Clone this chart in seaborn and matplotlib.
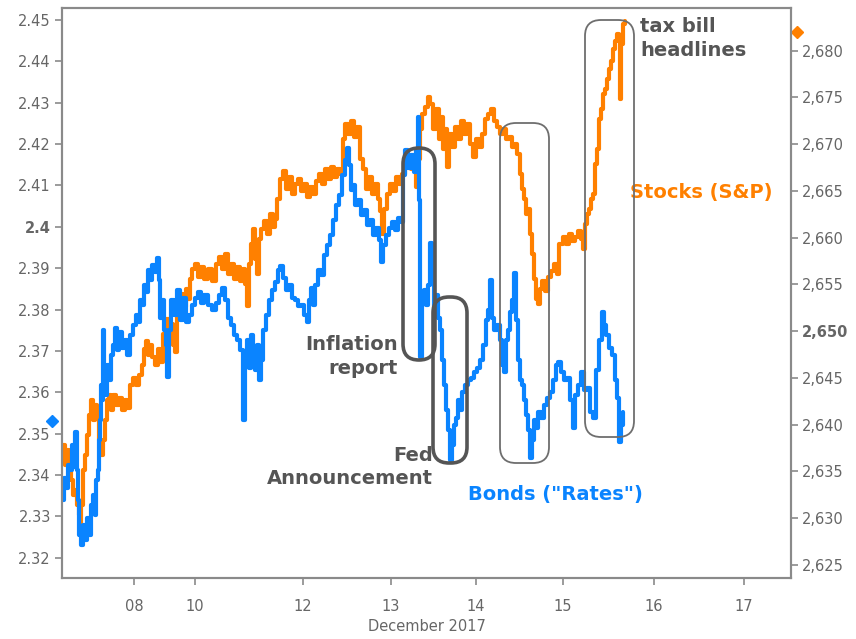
import matplotlib
matplotlib.use("Agg")

import matplotlib.pyplot as plt
from matplotlib.patches import FancyBboxPatch
import matplotlib.transforms as mtransforms
import seaborn as sns
import pandas as pd

# -----------------------------
# Bonds vs stocks, December 2017
# -----------------------------
# x is trading-session position (0 = "08" tick, 1 unit ~ one trading day)

bond_day = [-0.818, -0.806, -0.784, -0.761, -0.738, -0.715, -0.703, -0.680, -0.658, -0.646,
            -0.635, -0.612, -0.589, -0.566, -0.543, -0.520, -0.497, -0.474, -0.451, -0.440,
            -0.417, -0.406, -0.394, -0.383, -0.371, -0.360, -0.348, -0.325, -0.314, -0.291,
            -0.268, -0.245, -0.222, -0.199, -0.176, -0.142, -0.108, -0.085, -0.050, -0.016,
            0.018, 0.041, 0.064, 0.087, 0.110, 0.133, 0.156, 0.179, 0.202, 0.236,
            0.259, 0.282, 0.293, 0.316, 0.339, 0.362, 0.373, 0.396, 0.419, 0.454,
            0.488, 0.522, 0.557, 0.591, 0.625, 0.660, 0.694, 0.729, 0.763, 0.797,
            0.843, 0.889, 0.935, 0.969, 1.003, 1.038, 1.072, 1.107, 1.141, 1.175,
            1.210, 1.244, 1.267, 1.290, 1.313, 1.336, 1.359, 1.381, 1.404, 1.427,
            1.450, 1.473, 1.507, 1.542, 1.576, 1.611, 1.645, 1.668, 1.702, 1.737,
            1.771, 1.805, 1.840, 1.874, 1.908, 1.943, 1.977, 2.000, 2.023, 2.046,
            2.069, 2.103, 2.138, 2.172, 2.206, 2.241, 2.275, 2.309, 2.344, 2.378,
            2.412, 2.435, 2.458, 2.481, 2.504, 2.527, 2.561, 2.596, 2.630, 2.664,
            2.699, 2.733, 2.768, 2.802, 2.825, 2.848, 2.882, 2.916, 2.951, 2.985,
            3.020, 3.054, 3.077, 3.100, 3.134, 3.168, 3.203, 3.226, 3.249, 3.260,
            3.272, 3.294, 3.317, 3.340, 3.363, 3.386, 3.409, 3.432, 3.455, 3.478,
            3.501, 3.524, 3.547, 3.569, 3.592, 3.615, 3.638, 3.661, 3.684, 3.707,
            3.730, 3.753, 3.787, 3.821, 3.856, 3.890, 3.925, 3.959, 3.993, 4.028,
            4.051, 4.073, 4.096, 4.119, 4.154, 4.188, 4.211, 4.234, 4.257, 4.280,
            4.303, 4.325, 4.348, 4.371, 4.394, 4.417, 4.440, 4.463, 4.486, 4.509,
            4.532, 4.555, 4.577, 4.600, 4.623, 4.658, 4.692, 4.726, 4.761, 4.795,
            4.829, 4.852, 4.887, 4.921, 4.955, 4.990, 5.024, 5.047, 5.081, 5.116,
            5.150, 5.185, 5.219, 5.253, 5.288, 5.322, 5.356, 5.379, 5.402, 5.437,
            5.471, 5.505, 5.528, 5.551, 5.574, 5.597]

bond_yield = [2.3340, 2.3393, 2.3369, 2.3425, 2.3413, 2.3473, 2.3420, 2.3504, 2.3413, 2.3340,
              2.3255, 2.3231, 2.3280, 2.3243, 2.3297, 2.3255, 2.3328, 2.3352, 2.3304, 2.3388,
              2.3413, 2.3485, 2.3533, 2.3618, 2.3582, 2.3751, 2.3642, 2.3594, 2.3666, 2.3630,
              2.3690, 2.3715, 2.3756, 2.3703, 2.3746, 2.3707, 2.3727, 2.3690, 2.3739, 2.3763,
              2.3787, 2.3770, 2.3823, 2.3811, 2.3860, 2.3843, 2.3896, 2.3872, 2.3908, 2.3891,
              2.3925, 2.3872, 2.3780, 2.3823, 2.3751, 2.3715, 2.3637, 2.3751, 2.3823, 2.3787,
              2.3848, 2.3775, 2.3828, 2.3770, 2.3787, 2.3811, 2.3828, 2.3843, 2.3816, 2.3835,
              2.3811, 2.3799, 2.3816, 2.3835, 2.3852, 2.3823, 2.3780, 2.3763, 2.3739, 2.3727,
              2.3703, 2.3533, 2.3678, 2.3727, 2.3659, 2.3739, 2.3690, 2.3654, 2.3715, 2.3630,
              2.3678, 2.3751, 2.3787, 2.3823, 2.3848, 2.3867, 2.3896, 2.3906, 2.3877, 2.3848,
              2.3860, 2.3828, 2.3823, 2.3809, 2.3811, 2.3787, 2.3770, 2.3823, 2.3852, 2.3811,
              2.3860, 2.3896, 2.3884, 2.3932, 2.3956, 2.3980, 2.4017, 2.4053, 2.4077, 2.4125,
              2.4162, 2.4191, 2.4150, 2.4089, 2.4101, 2.4053, 2.4065, 2.4029, 2.4041, 2.4005,
              2.4017, 2.3980, 2.3997, 2.3968, 2.3915, 2.3956, 2.3980, 2.3997, 2.4012, 2.3993,
              2.4021, 2.4012, 2.4125, 2.4186, 2.4142, 2.4174, 2.4133, 2.4186, 2.4266, 2.4065,
              2.3686, 2.3823, 2.3848, 2.3811, 2.3860, 2.3961, 2.3872, 2.3799, 2.3835, 2.3780,
              2.3751, 2.3678, 2.3618, 2.3558, 2.3509, 2.3437, 2.3473, 2.3521, 2.3538, 2.3582,
              2.3558, 2.3601, 2.3618, 2.3630, 2.3635, 2.3649, 2.3659, 2.3678, 2.3715, 2.3775,
              2.3799, 2.3872, 2.3780, 2.3751, 2.3763, 2.3727, 2.3666, 2.3649, 2.3727, 2.3751,
              2.3794, 2.3823, 2.3889, 2.3775, 2.3678, 2.3630, 2.3618, 2.3582, 2.3545, 2.3509,
              2.3442, 2.3485, 2.3533, 2.3514, 2.3553, 2.3538, 2.3570, 2.3587, 2.3601, 2.3630,
              2.3666, 2.3674, 2.3649, 2.3630, 2.3635, 2.3582, 2.3514, 2.3594, 2.3618, 2.3649,
              2.3606, 2.3611, 2.3553, 2.3538, 2.3654, 2.3727, 2.3794, 2.3763, 2.3739, 2.3707,
              2.3690, 2.3630, 2.3587, 2.3480, 2.3521, 2.3553]

stock_day = [-0.818, -0.795, -0.772, -0.749, -0.726, -0.703, -0.680, -0.658, -0.635, -0.623,
             -0.612, -0.589, -0.566, -0.543, -0.520, -0.497, -0.474, -0.451, -0.428, -0.406,
             -0.383, -0.360, -0.337, -0.314, -0.291, -0.268, -0.245, -0.211, -0.176, -0.142,
             -0.108, -0.085, -0.050, -0.016, 0.018, 0.053, 0.087, 0.110, 0.133, 0.156,
             0.179, 0.202, 0.236, 0.270, 0.293, 0.328, 0.362, 0.396, 0.419, 0.442,
             0.465, 0.488, 0.522, 0.557, 0.591, 0.614, 0.637, 0.660, 0.694, 0.729,
             0.763, 0.797, 0.843, 0.889, 0.935, 0.969, 1.003, 1.038, 1.072, 1.107,
             1.141, 1.175, 1.210, 1.244, 1.267, 1.290, 1.313, 1.336, 1.359, 1.381,
             1.404, 1.427, 1.450, 1.485, 1.519, 1.553, 1.588, 1.611, 1.633, 1.668,
             1.702, 1.737, 1.771, 1.805, 1.840, 1.874, 1.908, 1.943, 1.977, 2.012,
             2.046, 2.080, 2.115, 2.149, 2.183, 2.218, 2.252, 2.286, 2.321, 2.355,
             2.390, 2.412, 2.446, 2.481, 2.516, 2.550, 2.584, 2.619, 2.653, 2.687,
             2.722, 2.756, 2.790, 2.813, 2.836, 2.859, 2.894, 2.928, 2.962, 2.997,
             3.031, 3.065, 3.100, 3.134, 3.168, 3.203, 3.226, 3.249, 3.272, 3.294,
             3.329, 3.363, 3.386, 3.421, 3.455, 3.489, 3.513, 3.535, 3.558, 3.581,
             3.604, 3.638, 3.673, 3.707, 3.741, 3.776, 3.810, 3.844, 3.879, 3.913,
             3.947, 3.982, 4.016, 4.051, 4.085, 4.119, 4.154, 4.188, 4.222, 4.257,
             4.291, 4.325, 4.360, 4.383, 4.417, 4.440, 4.463, 4.486, 4.509, 4.532,
             4.555, 4.577, 4.600, 4.623, 4.646, 4.669, 4.704, 4.738, 4.772, 4.807,
             4.841, 4.864, 4.910, 4.944, 4.978, 5.013, 5.047, 5.081, 5.116, 5.139,
             5.162, 5.185, 5.207, 5.230, 5.253, 5.276, 5.299, 5.322, 5.345, 5.368,
             5.391, 5.414, 5.437, 5.460, 5.483, 5.505, 5.528, 5.551, 5.563, 5.574,
             5.597, 5.620]

stock_price = [2637.86, 2635.72, 2637.32, 2635.18, 2634.11, 2632.50, 2633.04, 2631.43, 2630.36, 2629.50,
               2631.43, 2635.18, 2636.79, 2638.93, 2641.08, 2642.69, 2640.54, 2642.15, 2640.76, 2638.40,
               2636.79, 2638.40, 2640.54, 2642.69, 2643.22, 2641.61, 2643.22, 2642.15, 2642.90, 2641.61,
               2642.69, 2641.83, 2644.30, 2645.05, 2644.30, 2645.37, 2646.44, 2648.05, 2648.91, 2647.51,
               2648.58, 2647.19, 2646.44, 2648.05, 2646.76, 2649.66, 2651.27, 2649.34, 2650.73, 2648.58,
               2647.73, 2652.87, 2653.95, 2652.55, 2654.48, 2653.41, 2655.55, 2656.63, 2657.16, 2655.77,
               2656.84, 2655.55, 2656.63, 2655.34, 2657.16, 2657.91, 2656.63, 2658.23, 2656.09, 2657.16,
               2655.55, 2656.84, 2655.34, 2656.63, 2655.02, 2652.66, 2657.16, 2659.31, 2660.91, 2657.70,
               2656.09, 2659.84, 2660.91, 2661.77, 2660.38, 2662.52, 2661.13, 2661.99, 2664.13, 2666.28,
               2667.13, 2665.20, 2666.49, 2664.67, 2665.74, 2666.28, 2664.99, 2665.74, 2664.35, 2665.42,
               2664.67, 2666.06, 2666.81, 2665.74, 2667.35, 2666.28, 2667.56, 2666.49, 2667.35, 2666.81,
               2670.56, 2672.17, 2671.10, 2672.49, 2670.78, 2671.85, 2668.42, 2667.35, 2665.20, 2666.49,
               2664.67, 2665.74, 2664.13, 2662.85, 2660.38, 2663.06, 2664.67, 2665.74, 2664.99, 2666.49,
               2665.74, 2666.81, 2667.56, 2668.42, 2667.35, 2668.63, 2665.42, 2668.42, 2671.64, 2673.25,
               2674.00, 2675.07, 2674.32, 2671.64, 2673.78, 2670.56, 2672.92, 2669.49, 2671.64, 2667.56,
               2671.10, 2669.71, 2671.85, 2670.56, 2672.49, 2671.10, 2672.17, 2670.03, 2668.63, 2670.56,
               2669.71, 2671.10, 2672.71, 2673.25, 2673.78, 2672.49, 2671.85, 2671.10, 2671.64, 2670.56,
               2670.78, 2669.71, 2670.03, 2668.96, 2666.81, 2665.20, 2664.13, 2662.52, 2663.06, 2660.38,
               2658.23, 2655.55, 2653.41, 2652.87, 2654.48, 2655.34, 2654.27, 2655.77, 2656.41, 2657.16,
               2656.09, 2659.31, 2660.06, 2659.31, 2660.38, 2659.63, 2660.06, 2660.70, 2659.84, 2658.77,
               2661.45, 2662.52, 2663.06, 2664.13, 2664.67, 2667.88, 2669.49, 2672.71, 2673.78, 2675.39,
               2675.93, 2677.00, 2678.07, 2678.93, 2680.21, 2681.07, 2681.82, 2681.50, 2674.85, 2680.75,
               2682.89, 2683.22]

# last-value markers shown on the axes
bond_last = 2.353
stock_last = 2682.0

tick_pos = [0.0, 0.694, 1.931, 2.935, 3.913, 4.906, 5.947, 6.978]
tick_labels = ["08", "10", "12", "13", "14", "15", "16", "17"]

left_ticks = [2.32, 2.33, 2.34, 2.35, 2.36, 2.37, 2.38, 2.39, 2.40, 2.41, 2.42, 2.43, 2.44, 2.45]
right_ticks = [2625, 2630, 2635, 2640, 2645, 2650, 2655, 2660, 2665, 2670, 2675, 2680]

BLUE = "#0A84FF"
ORANGE = "#FF8000"
GREY = "#666666"
NOTE = "#555555"

bonds = pd.DataFrame({"day": bond_day, "yield": bond_yield})
stocks = pd.DataFrame({"day": stock_day, "price": stock_price})

sns.set_style("white")
plt.rcParams["font.family"] = ["DejaVu Sans"]

fig, ax = plt.subplots(figsize=(8.56, 6.39), dpi=100)
fig.subplots_adjust(left=0.0724, right=0.924, top=0.9875, bottom=0.0955)
ax2 = ax.twinx()

sns.lineplot(data=stocks, x="day", y="price", ax=ax2, color=ORANGE, linewidth=3.0,
             sort=False, estimator=None, drawstyle="steps-post")
sns.lineplot(data=bonds, x="day", y="yield", ax=ax, color=BLUE, linewidth=3.0,
             sort=False, estimator=None, drawstyle="steps-post")

# bonds line on top of stocks
ax.set_zorder(ax2.get_zorder() + 1)
ax.patch.set_visible(False)

ax.set_xlim(-0.829, 7.521)
ax.set_ylim(2.3151, 2.4529)
ax2.set_ylim(2623.61, 2684.57)

ax.set_xticks(tick_pos, labels=tick_labels)
ax.set_xlabel("December 2017", color=GREY, fontsize=10.5, labelpad=4)
ax.set_ylabel("")
ax2.set_ylabel("")

left_labels = ["2.4" if abs(t - 2.40) < 1e-9 else f"{t:.2f}" for t in left_ticks]
ax.set_yticks(left_ticks, labels=left_labels)
right_labels = [f"{t:,}" for t in right_ticks]
ax2.set_yticks(right_ticks, labels=right_labels)

for lab in ax.get_yticklabels():
    if lab.get_text() == "2.4":
        lab.set_fontweight("bold")
for lab in ax2.get_yticklabels():
    if lab.get_text() == "2,650":
        lab.set_fontweight("bold")

for a in (ax, ax2):
    for s in a.spines.values():
        s.set_color("#8a8a8a")
        s.set_linewidth(1.5)
    a.tick_params(axis="both", colors="#8a8a8a", labelcolor=GREY, labelsize=10.5,
                  direction="out", length=5, width=1.2)
ax.tick_params(axis="y", left=True, pad=3)
ax.tick_params(axis="x", bottom=True, pad=10)
ax2.tick_params(axis="y", right=True, pad=3)

# last-value diamonds just outside the frame
ax.plot([-0.014], [bond_last], marker="D", markersize=6, color=BLUE, clip_on=False,
        transform=mtransforms.blended_transform_factory(ax.transAxes, ax.transData))
ax2.plot([1.008], [stock_last], marker="D", markersize=6, color=ORANGE, clip_on=False,
         transform=mtransforms.blended_transform_factory(ax2.transAxes, ax2.transData))

# rounded highlight boxes (figure inches)
boxes = [
    (4.03, 2.79, 0.32, 2.12, 2.6, "#555555"),
    (4.33, 1.76, 0.34, 1.66, 2.6, "#555555"),
    (5.00, 1.76, 0.49, 3.40, 1.3, "#6e6e6e"),
    (5.85, 2.02, 0.49, 4.17, 1.3, "#6e6e6e"),
]
for x0, y0, w, h, lw, col in boxes:
    r = 0.16
    patch = FancyBboxPatch((x0 + r, y0 + r), w - 2 * r, h - 2 * r,
                           boxstyle=f"round,pad={r},rounding_size={r}",
                           transform=fig.dpi_scale_trans, fill=False,
                           edgecolor=col, linewidth=lw, zorder=10)
    fig.add_artist(patch)

note_kw = dict(transform=ax.transAxes, fontsize=14, fontweight="bold", linespacing=1.3)
ax.text(0.793, 0.984, "tax bill\nheadlines", color=NOTE, ha="left", va="top", **note_kw)
ax.text(0.779, 0.677, "Stocks (S&P)", color=ORANGE, ha="left", va="center", **note_kw)
ax.text(0.461, 0.389, "Inflation\nreport", color=NOTE, ha="right", va="center",
        multialignment="right", **note_kw)
ax.text(0.509, 0.195, "Fed\nAnnouncement", color=NOTE, ha="right", va="center",
        multialignment="right", **note_kw)
ax.text(0.557, 0.147, 'Bonds ("Rates")', color=BLUE, ha="left", va="center", **note_kw)

plt.savefig("out.png", dpi=100)
plt.close()
